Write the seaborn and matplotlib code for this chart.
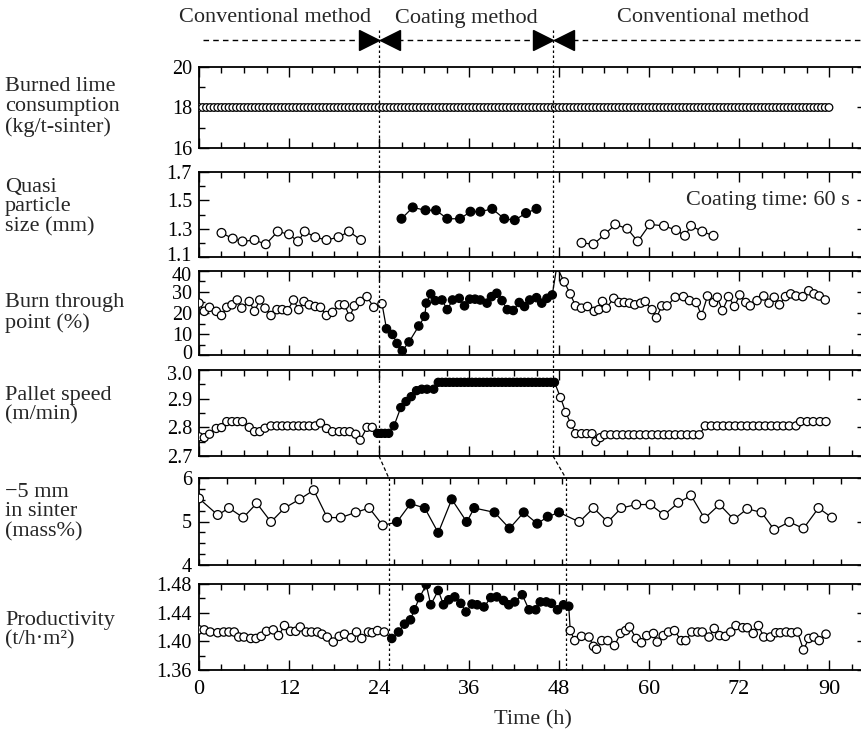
import matplotlib
matplotlib.use("Agg")
import matplotlib.pyplot as plt
from matplotlib.ticker import MultipleLocator, FixedLocator
from matplotlib.transforms import ScaledTranslation
import seaborn as sns
import pandas as pd

# ---- data (time in h, axis units) ----
lime_t = [0.0, 0.5, 1.0, 1.5, 2.0, 2.5, 3.0, 3.5, 4.0, 4.5, 5.0, 5.5, 6.0, 6.5, 7.0, 7.5,
          8.0, 8.5, 9.0, 9.5, 10.0, 10.5, 11.0, 11.5, 12.0, 12.5, 13.0, 13.5, 14.0, 14.5,
          15.0, 15.5, 16.0, 16.5, 17.0, 17.5, 18.0, 18.5, 19.0, 19.5, 20.0, 20.5, 21.0,
          21.5, 22.0, 22.5, 23.0, 23.5, 24.0, 24.5, 25.0, 25.5, 26.0, 26.5, 27.0, 27.5,
          28.0, 28.5, 29.0, 29.5, 30.0, 30.5, 31.0, 31.5, 32.0, 32.5, 33.0, 33.5, 34.0,
          34.5, 35.0, 35.5, 36.0, 36.5, 37.0, 37.5, 38.0, 38.5, 39.0, 39.5, 40.0, 40.5,
          41.0, 41.5, 42.0, 42.5, 43.0, 43.5, 44.0, 44.5, 45.0, 45.5, 46.0, 46.5, 47.0,
          47.5, 48.0, 48.5, 49.0, 49.5, 50.0, 50.5, 51.0, 51.5, 52.0, 52.5, 53.0, 53.5,
          54.0, 54.5, 55.0, 55.5, 56.0, 56.5, 57.0, 57.5, 58.0, 58.5, 59.0, 59.5, 60.0,
          60.5, 61.0, 61.5, 62.0, 62.5, 63.0, 63.5, 64.0, 64.5, 65.0, 65.5, 66.0, 66.5,
          67.0, 67.5, 68.0, 68.5, 69.0, 69.5, 70.0, 70.5, 71.0, 71.5, 72.0, 72.5, 73.0,
          73.5, 74.0, 74.5, 75.0, 75.5, 76.0, 76.5, 77.0, 77.5, 78.0, 78.5, 79.0, 79.5,
          80.0, 80.5, 81.0, 81.5, 82.0, 82.5, 83.0, 83.5, 84.0]
lime_v = [18.0] * len(lime_t)

quasi_open1_t = [3.0, 4.5, 5.8, 7.4, 8.9, 10.5, 12.0, 13.2, 14.1, 15.5, 17.0, 18.6, 20.0, 21.6]
quasi_open1_v = [1.27, 1.23, 1.21, 1.22, 1.19, 1.28, 1.26, 1.21, 1.28, 1.24, 1.22, 1.24, 1.28, 1.22]
quasi_fill_t = [27.0, 28.5, 30.2, 31.6, 33.1, 34.8, 36.2, 37.5, 39.1, 40.7, 42.1, 43.6, 45.0]
quasi_fill_v = [1.37, 1.45, 1.43, 1.43, 1.37, 1.37, 1.42, 1.42, 1.44, 1.37, 1.36, 1.41, 1.44]
quasi_open2_t = [51.0, 52.6, 54.1, 55.5, 57.1, 58.5, 60.1, 62.0, 63.6, 64.8, 65.6, 67.1, 68.6]
quasi_open2_v = [1.20, 1.19, 1.26, 1.33, 1.30, 1.21, 1.33, 1.32, 1.29, 1.25, 1.32, 1.28, 1.25]

btp_open1_t = [0.0, 0.7, 1.4, 2.3, 3.0, 3.7, 4.4, 5.1, 5.7, 6.7, 7.4, 8.1, 8.8, 9.6, 10.4,
               11.1, 11.8, 12.6, 13.3, 14.0, 14.7, 15.5, 16.2, 17.0, 17.8, 18.7, 19.4, 20.1,
               20.7, 21.5, 22.4, 23.3, 24.4]
btp_open1_v = [24.7, 20.8, 22.7, 20.8, 18.8, 22.7, 23.9, 26.2, 22.3, 25.5, 20.8, 26.2, 22.3,
               18.8, 21.6, 21.6, 21.1, 26.2, 21.6, 25.5, 23.9, 23.1, 22.7, 18.8, 20.3, 23.9,
               23.9, 18.1, 23.4, 25.5, 27.8, 22.7, 24.4]
btp_fill_t = [25.0, 25.8, 26.4, 27.1, 28.0, 29.3, 30.1, 30.3, 30.9, 31.5, 32.4, 33.1, 33.8,
              34.7, 35.4, 36.1, 36.8, 37.5, 38.4, 39.0, 39.7, 40.4, 41.1, 41.9, 42.7, 43.4,
              44.1, 45.0, 45.7, 46.4, 47.1]
btp_fill_v = [12.5, 9.8, 5.5, 2.0, 6.2, 13.8, 18.4, 24.7, 29.1, 25.9, 26.2, 21.6, 26.2, 27.0,
              23.4, 26.6, 26.6, 26.2, 24.7, 27.8, 29.4, 25.9, 21.6, 21.2, 25.0, 23.1, 26.2,
              27.3, 24.7, 27.0, 28.6]
btp_open2_t = [47.7, 48.7, 49.5, 50.2, 51.0, 51.8, 52.7, 53.3, 53.8, 54.3, 55.3, 56.0, 56.7,
               57.4, 58.1, 58.9, 59.5, 60.4, 61.0, 61.7, 62.4, 63.5, 64.6, 65.4, 66.3, 67.0,
               67.8, 68.6, 69.1, 69.8, 70.6, 71.4, 72.1, 72.9, 73.5, 74.4, 75.3, 76.0, 76.7,
               77.4, 78.2, 78.9, 79.6, 80.5, 81.3, 82.0, 82.7, 83.5]
btp_open2_v = [42.0, 34.8, 29.1, 23.4, 22.3, 23.1, 20.8, 21.6, 25.5, 22.3, 27.0, 25.0, 25.0,
               24.7, 23.9, 24.7, 25.5, 21.6, 17.7, 23.4, 23.4, 27.5, 27.8, 25.9, 25.0, 18.8,
               28.1, 25.0, 27.5, 21.1, 27.8, 23.1, 28.6, 25.0, 23.4, 25.9, 28.1, 24.7, 27.5,
               23.9, 27.8, 29.1, 28.1, 27.8, 30.6, 29.1, 28.1, 26.2]

speed_open1_t = [0.0, 0.7, 1.4, 2.3, 3.0, 3.7, 4.4, 5.1, 5.8, 6.7, 7.4, 8.1, 8.8, 9.6, 10.4,
                 11.1, 11.8, 12.6, 13.3, 14.0, 14.7, 15.5, 16.2, 17.0, 17.8, 18.7, 19.4, 20.1,
                 20.9, 21.5, 22.4, 23.1]
speed_open1_v = [2.767, 2.764, 2.776, 2.796, 2.799, 2.82, 2.82, 2.82, 2.82, 2.80, 2.785, 2.785,
                 2.797, 2.805, 2.805, 2.805, 2.805, 2.805, 2.805, 2.805, 2.805, 2.805, 2.815,
                 2.796, 2.785, 2.785, 2.785, 2.785, 2.776, 2.755, 2.80, 2.80]
speed_fill_t = [23.8, 24.3, 24.8, 25.3, 26.0, 26.9, 27.6, 28.3, 29.0, 29.7, 30.4, 31.3, 31.9,
                32.4, 32.9, 33.4, 33.9, 34.4, 34.9, 35.4, 35.9, 36.4, 36.9, 37.4, 37.9, 38.4,
                38.9, 39.4, 39.9, 40.4, 40.9, 41.4, 41.9, 42.4, 42.9, 43.4, 43.9, 44.4, 44.9,
                45.4, 45.9, 46.4, 46.9, 47.4]
speed_fill_v = [2.779, 2.779, 2.779, 2.779, 2.805, 2.869, 2.890, 2.907, 2.928, 2.933, 2.933,
                2.933, 2.957, 2.957, 2.957, 2.957, 2.957, 2.957, 2.957, 2.957, 2.957, 2.957,
                2.957, 2.957, 2.957, 2.957, 2.957, 2.957, 2.957, 2.957, 2.957, 2.957, 2.957,
                2.957, 2.957, 2.957, 2.957, 2.957, 2.957, 2.957, 2.957, 2.957, 2.957, 2.957]
speed_open2_t = [48.2, 48.9, 49.6, 50.2, 51.0, 51.7, 52.4, 52.9, 53.5, 54.1, 54.9, 55.7, 56.5,
                 57.3, 58.0, 58.8, 59.6, 60.4, 61.2, 62.0, 62.7, 63.5, 64.3, 65.1, 65.9, 66.7,
                 67.5, 68.3, 69.1, 69.9, 70.7, 71.5, 72.3, 73.1, 73.9, 74.7, 75.5, 76.3, 77.1,
                 77.9, 78.7, 79.6, 80.2, 81.1, 81.9, 82.8, 83.6]
speed_open2_v = [2.904, 2.852, 2.811, 2.778, 2.778, 2.778, 2.778, 2.750, 2.764, 2.774, 2.774,
                 2.774, 2.774, 2.774, 2.774, 2.774, 2.774, 2.774, 2.774, 2.774, 2.774, 2.774,
                 2.774, 2.774, 2.774, 2.774, 2.805, 2.805, 2.805, 2.805, 2.805, 2.805, 2.805,
                 2.805, 2.805, 2.805, 2.805, 2.805, 2.805, 2.805, 2.805, 2.805, 2.820, 2.820,
                 2.820, 2.820, 2.820]

fines_open1_t = [0.0, 2.5, 4.0, 5.9, 7.7, 9.6, 11.4, 13.4, 15.3, 17.1, 18.9, 20.9, 22.7, 24.5]
fines_open1_v = [5.53, 5.15, 5.31, 5.09, 5.42, 4.99, 5.31, 5.51, 5.72, 5.09, 5.09, 5.21, 5.31, 4.91]
fines_fill_t = [26.4, 28.2, 30.1, 31.9, 33.7, 35.7, 36.7, 39.4, 41.4, 43.3, 45.1, 46.5, 48.0]
fines_fill_v = [4.99, 5.41, 5.31, 4.74, 5.51, 4.99, 5.31, 5.21, 4.84, 5.21, 4.95, 5.11, 5.21]
fines_open2_t = [50.7, 52.6, 54.5, 56.3, 58.3, 60.2, 62.0, 63.9, 65.6, 67.4, 69.4, 71.3, 73.1,
                 75.0, 76.7, 78.7, 80.6, 82.6, 84.4]
fines_open2_v = [4.99, 5.31, 4.99, 5.31, 5.39, 5.39, 5.15, 5.43, 5.60, 5.07, 5.39, 5.05, 5.29,
                 5.21, 4.81, 4.99, 4.84, 5.31, 5.09]

prod_open1_t = [0.0, 0.7, 1.5, 2.5, 3.3, 4.0, 4.7, 5.3, 6.0, 6.9, 7.6, 8.3, 9.0, 9.9, 10.6,
                11.4, 12.2, 12.9, 13.5, 14.3, 15.0, 15.8, 16.4, 17.1, 17.9, 18.7, 19.4, 20.3,
                21.0, 21.7, 22.6, 23.1, 23.8, 24.7]
prod_open1_v = [1.416, 1.416, 1.413, 1.412, 1.413, 1.413, 1.413, 1.406, 1.406, 1.404, 1.404,
                1.407, 1.414, 1.416, 1.408, 1.422, 1.414, 1.414, 1.420, 1.413, 1.413, 1.413,
                1.410, 1.406, 1.399, 1.407, 1.410, 1.405, 1.413, 1.404, 1.413, 1.412, 1.415,
                1.413]
prod_fill_t = [25.7, 26.6, 27.4, 28.2, 28.7, 29.4, 30.3, 30.9, 31.9, 32.6, 33.3, 34.1, 34.9,
               35.6, 36.4, 37.1, 38.0, 38.9, 39.7, 40.6, 41.3, 42.1, 43.1, 44.0, 44.9, 45.5,
               46.3, 47.0, 47.8, 48.6, 49.3]
prod_fill_v = [1.404, 1.413, 1.424, 1.430, 1.444, 1.461, 1.479, 1.451, 1.471, 1.451, 1.458,
               1.462, 1.453, 1.441, 1.452, 1.451, 1.448, 1.461, 1.462, 1.457, 1.451, 1.455,
               1.465, 1.444, 1.444, 1.455, 1.455, 1.453, 1.444, 1.451, 1.449]
prod_open2_t = [49.5, 50.1, 51.0, 52.0, 52.6, 53.0, 53.7, 54.5, 55.4, 56.2, 56.9, 57.4, 58.3,
                59.0, 59.7, 60.6, 61.1, 61.9, 62.6, 63.4, 64.3, 64.9, 65.7, 66.5, 67.1, 68.0,
                68.7, 69.4, 70.2, 70.9, 71.6, 72.5, 73.1, 73.9, 74.6, 75.3, 76.2, 76.9, 77.5,
                78.3, 79.0, 79.8, 80.6, 81.3, 82.0, 82.7, 83.6]
prod_open2_v = [1.415, 1.401, 1.407, 1.406, 1.393, 1.389, 1.401, 1.401, 1.394, 1.411, 1.415,
                1.420, 1.404, 1.398, 1.408, 1.411, 1.399, 1.408, 1.413, 1.415, 1.401, 1.401,
                1.413, 1.413, 1.413, 1.406, 1.418, 1.408, 1.407, 1.413, 1.422, 1.419, 1.419,
                1.411, 1.422, 1.406, 1.406, 1.412, 1.412, 1.413, 1.412, 1.413, 1.388, 1.404,
                1.406, 1.401, 1.410]

x_tick_pos = [0, 12, 24, 36, 48, 60, 72, 84]
x_tick_lab = ['0', '12', '24', '36', '48', '60', '72', '90']

y_ticks = [[16, 18, 20], [1.1, 1.3, 1.5, 1.7], [0, 10, 20, 30, 40],
           [2.7, 2.8, 2.9, 3.0], [4, 5, 6], [1.36, 1.40, 1.44, 1.48]]
y_tick_lab = [['16', '18', '20'], ['1.1', '1.3', '1.5', '1.7'], ['0', '10', '20', '30', '40'],
              ['2.7', '2.8', '2.9', '3.0'], ['4', '5', '6'], ['1.36', '1.40', '1.44', '1.48']]

ylabels = ["Burned lime\nconsumption\n(kg/t-sinter)",
           "Quasi\nparticle\nsize (mm)",
           "Burn through\npoint (%)",
           "Pallet speed\n(m/min)",
           "\u22125 mm\nin sinter\n(mass%)",
           "Productivity\n(t/h\u00b7m\u00b2)"]


def make_df(o1t, o1v, ft, fv, o2t, o2v):
    rows = []
    for t, v in zip(o1t, o1v):
        rows.append((t, v, 'open', 0))
    for t, v in zip(ft, fv):
        rows.append((t, v, 'filled', 1))
    for t, v in zip(o2t, o2v):
        rows.append((t, v, 'open', 2))
    return pd.DataFrame(rows, columns=['t', 'v', 'phase', 'seg'])


sns.set_theme(style="ticks")
plt.rcParams['font.family'] = ['Liberation Serif', 'DejaVu Serif']
plt.rcParams['axes.linewidth'] = 1.3

W, H = 862, 731
fig = plt.figure(figsize=(W / 100, H / 100), dpi=100)
X0, XW = 199, 667.5
XMAX = 89.0

panels = [(67, 148), (172, 257), (271, 355), (370, 456), (478, 565), (584, 670)]
axes = []
for top, bot in panels:
    ax = fig.add_axes([X0 / W, 1 - bot / H, XW / W, (bot - top) / H])
    axes.append(ax)

lime_df = pd.DataFrame({'t': lime_t, 'v': lime_v, 'phase': 'open', 'seg': 0})
dfs = [lime_df,
       make_df(quasi_open1_t, quasi_open1_v, quasi_fill_t, quasi_fill_v, quasi_open2_t, quasi_open2_v),
       make_df(btp_open1_t, btp_open1_v, btp_fill_t, btp_fill_v, btp_open2_t, btp_open2_v),
       make_df(speed_open1_t, speed_open1_v, speed_fill_t, speed_fill_v, speed_open2_t, speed_open2_v),
       make_df(fines_open1_t, fines_open1_v, fines_fill_t, fines_fill_v, fines_open2_t, fines_open2_v),
       make_df(prod_open1_t, prod_open1_v, prod_fill_t, prod_fill_v, prod_open2_t, prod_open2_v)]

ylims = [(16, 20), (1.1, 1.7), (0, 40), (2.7, 3.0), (4, 6), (1.36, 1.48)]
ymin = [1, 0.1, 5, 0.05, 0.25, 0.02]
msize = [30, 40, 36, 34, 40, 36]
pal = {'open': 'white', 'filled': 'black'}

for i, (ax, df) in enumerate(zip(axes, dfs)):
    if i == 1:
        sns.lineplot(data=df, x='t', y='v', units='seg', estimator=None, ax=ax,
                     color='black', lw=0.9)
    else:
        sns.lineplot(data=df, x='t', y='v', ax=ax, color='black', lw=0.9, estimator=None)
    sns.scatterplot(data=df, x='t', y='v', hue='phase', palette=pal, edgecolor='black',
                    linewidth=0.9, s=msize[i], ax=ax, legend=False, zorder=3)
    ax.set_xlim(0, XMAX)
    ax.set_xlabel('')
    ax.set_ylabel('')
    ax.yaxis.set_major_locator(FixedLocator(y_ticks[i]))
    ax.set_yticklabels(y_tick_lab[i])
    ax.yaxis.set_minor_locator(MultipleLocator(ymin[i]))
    ax.set_ylim(*ylims[i])
    if i == 4:
        ax.xaxis.set_major_locator(MultipleLocator(3.72))
        ax.xaxis.set_minor_locator(MultipleLocator(100))
    else:
        ax.xaxis.set_major_locator(FixedLocator(x_tick_pos))
        ax.xaxis.set_minor_locator(MultipleLocator(3))
    ax.tick_params(which='both', direction='in', top=True, right=True, width=1,
                   labelsize=14.5, colors='black', pad=5)
    ax.tick_params(which='major', length=7)
    ax.tick_params(which='minor', length=4)
    if i == 4:
        ax.tick_params(axis='x', which='major', length=4)
    if i < 5:
        ax.tick_params(axis='x', labelbottom=False)
    for sp in ax.spines.values():
        sp.set_color('black')
        sp.set_linewidth(1.3)

# nudge the tick labels that sit on the tight panel joins
for ai, idx, dy in ((1, 0, 2.5), (2, -1, -2.5), (2, 0, 2.5), (3, -1, -2.5)):
    lab = axes[ai].yaxis.get_major_ticks()[idx].label1
    lab.set_transform(lab.get_transform() + ScaledTranslation(0, dy / 72, fig.dpi_scale_trans))

axes[5].set_xticks(x_tick_pos)
axes[5].set_xticklabels(x_tick_lab)
axes[5].tick_params(axis='x', pad=7, labelsize=16)
axes[5].set_xlabel('Time (h)', fontsize=16, labelpad=8)
axes[1].text(65.0, 1.5, 'Coating time: 60 s', fontsize=16, va='center', ha='left')

# left-hand labels
label_y = [107, 207, 313, 405, 512, 630]
for txt, yy in zip(ylabels, label_y):
    fig.text(5 / W, 1 - yy / H, txt, fontsize=16, ha='left', va='center', linespacing=1.05)

# overlay for header, phase markers and the dotted phase lines
ov = fig.add_axes([X0 / W, 0, XW / W, 1], zorder=10)
ov.set_xlim(0, XMAX)
ov.set_ylim(H, 0)
ov.axis('off')
ov.text(10.1, 18, 'Conventional method', fontsize=16, ha='center', va='center')
ov.text(35.6, 18, 'Coating method', fontsize=16, ha='center', va='center')
ov.text(68.5, 18, 'Conventional method', fontsize=16, ha='center', va='center')
ov.plot([0.5, 95], [40, 40], color='black', lw=1, ls=(0, (4, 3)), clip_on=False)
for xc in (24.0, 47.2):
    ov.plot([xc - 1.4], [40], marker='>', ms=14, color='black', clip_on=False)
    ov.plot([xc + 1.4], [40], marker='<', ms=14, color='black', clip_on=False)

for x_up, x_low in ((24.0, 25.3), (47.2, 48.9)):
    ov.plot([x_up, x_up], [30, 456], color='black', lw=0.9, ls=(0, (2, 2)), clip_on=False)
    ov.plot([x_up, x_low], [456, 478], color='black', lw=0.9, ls=(0, (3, 2)), clip_on=False)
    ov.plot([x_low, x_low], [478, 670], color='black', lw=0.9, ls=(0, (2, 2)), clip_on=False)

fig.savefig('out.png', dpi=100)
